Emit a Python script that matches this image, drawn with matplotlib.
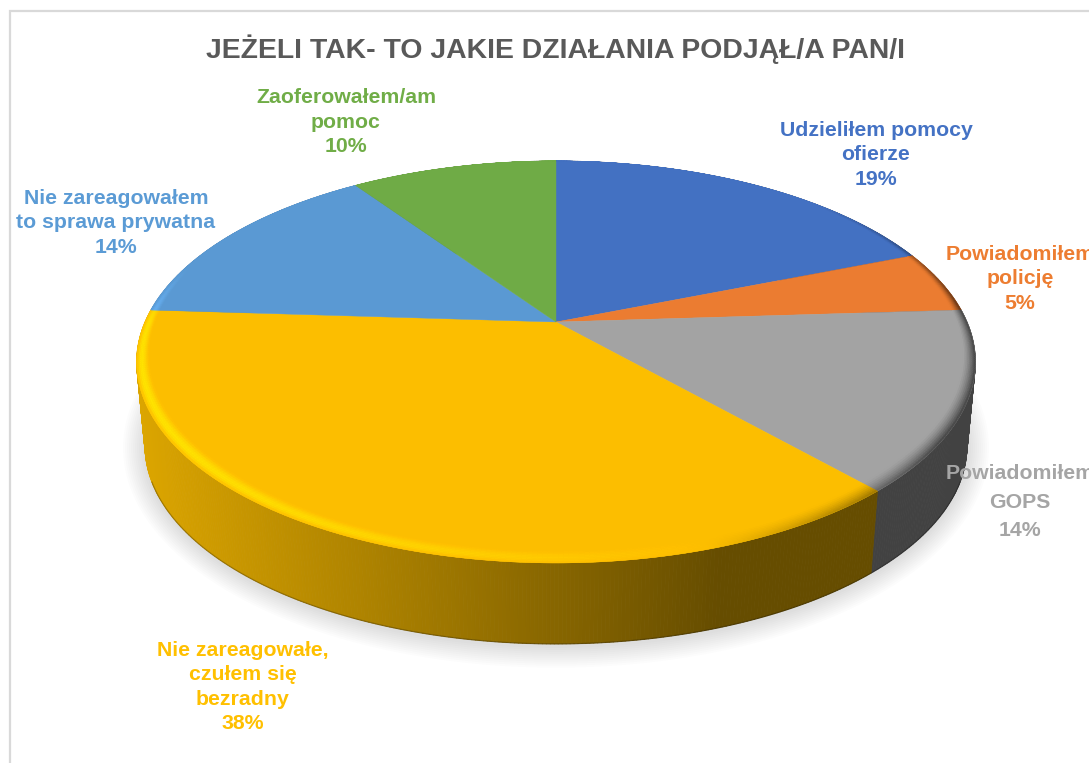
"""
3D pie chart: JEZELI TAK - TO JAKIE DZIALANIA PODJAL/A PAN/I
Drawn by hand since matplotlib has no perspective pie with a bevelled rim.
"""
import numpy as np
import matplotlib
matplotlib.use("Agg")
import matplotlib.pyplot as plt
from matplotlib.collections import PolyCollection
from matplotlib.colors import to_rgb
from matplotlib.patches import Polygon

TITLE = "JEŻELI TAK- TO JAKIE DZIAŁANIA PODJĄŁ/A PAN/I"

CATEGORIES = [
    "Udzieliłem pomocy\nofierze",
    "Powiadomiłem\npolicję",
    "Powiadomiłem\nGOPS",
    "Nie zareagowałe,\nczułem się\nbezradny",
    "Nie zareagowałem\nto sprawa prywatna",
    "Zaoferowałem/am\npomoc",
]
VALUES = [19.0, 5.0, 14.4, 37.6, 14.4, 9.6]
COLORS = ["#4472C4", "#ED7D31", "#A5A5A5", "#FFC000", "#5B9BD5", "#70AD47"]

# label block centres, in image pixels
LABEL_X = [876, 1020, 1020, 243, 116, 346]
LABEL_Y = [155, 279, 502, 687, 223, 122]
LABEL_SPACING = [1.34, 1.34, 1.63, 1.34, 1.34, 1.34]

# perspective of the pie disc, in image pixels
CX, CY = 556, 322
R_X, R_Y, PERSP = 411, 193, 0.199
BEVEL = 0.04
TOP_SHADE = 0.99

plt.rcParams["font.family"] = ["Liberation Sans", "DejaVu Sans"]

fig = plt.figure(figsize=(10.89, 7.63), dpi=100)
ax = fig.add_axes([0, 0, 1, 1])
ax.set_xlim(0, 1089)
ax.set_ylim(763, 0)
ax.axis("off")


def top_xy(u, v):
    d = 1 - PERSP * v
    return CX + R_X * u / d, CY + R_Y * v / d


def bottom_xy(u, v):
    # lower rim: same outline moved down and slightly narrower
    x, y = top_xy(u, v)
    return CX + (x - CX) * 0.98, 447 + (y - 363) * 0.985


def circle(t, rho=1.0):
    # t runs clockwise from 12 o'clock, v grows towards the viewer
    return rho * np.sin(t), -rho * np.cos(t)


# frame of the chart area, only left and top are in the crop
ax.plot([10, 10, 1089], [763, 11, 11], color="#D9D9D9", lw=1.6, solid_joinstyle="miter")

# soft shadow under the disc
ring = np.linspace(0, 2 * np.pi, 240)
for grow in np.arange(22, 0, -2):
    u, v = circle(ring)
    x, y = bottom_xy(u, v)
    xs = CX + (x - CX) * (1 + grow / 411)
    ys = 449 + (y - 447) * (1 + grow / 199)
    ax.add_patch(Polygon(np.column_stack([xs, ys]), closed=True, fc="black",
                         ec="none", alpha=0.012, zorder=1))

edges = np.cumsum([0] + VALUES) / np.sum(VALUES) * 2 * np.pi

# side wall, painted back to front
side_polys, side_cols, side_depth = [], [], []
for i, col in enumerate(COLORS):
    base = np.array(to_rgb(col))
    ts = np.linspace(edges[i], edges[i + 1], max(int(VALUES[i] * 8), 4) + 1)
    for a, b in zip(ts[:-1], ts[1:]):
        ua, va = circle(a)
        ub, vb = circle(b)
        xa, ya = top_xy(ua, va)
        xb, yb = top_xy(ub, vb)
        xc, yc = bottom_xy(ub, vb)
        xd, yd = bottom_xy(ua, va)
        f = np.interp((xa + xb) / 2, [140, 720], [0.86, 0.40])
        side_polys.append([(xa, ya), (xb, yb), (xc, yc), (xd, yd)])
        side_cols.append(base * f)
        side_depth.append(va + vb)
order = np.argsort(side_depth)
ax.add_collection(PolyCollection([side_polys[k] for k in order],
                                 facecolors=[side_cols[k] for k in order],
                                 edgecolors=[side_cols[k] for k in order],
                                 linewidths=0.6, zorder=2))

# thin dark line along the bottom rim
arc = np.linspace(np.pi * 0.62, np.pi * 1.38, 200)
x, y = bottom_xy(*circle(arc))
ax.plot(x, y, color="black", alpha=0.25, lw=0.9, zorder=3)

# flat top of each slice
for i, col in enumerate(COLORS):
    top_col = np.array(to_rgb(col)) * TOP_SHADE
    ts = np.linspace(edges[i], edges[i + 1], 120)
    x, y = top_xy(*circle(ts))
    pts = np.column_stack([np.r_[CX, x], np.r_[CY, y]])
    ax.add_patch(Polygon(pts, closed=True, fc=top_col, ec=top_col, lw=0.3, zorder=4))

# bevel: a few concentric strips, lit from the front left
STEPS = 8
bev_polys, bev_cols = [], []
for i, col in enumerate(COLORS):
    base = np.array(to_rgb(col)) * TOP_SHADE
    ts = np.linspace(edges[i], edges[i + 1], max(int(VALUES[i] * 6), 4) + 1)
    for a, b in zip(ts[:-1], ts[1:]):
        um, vm = circle((a + b) / 2)
        w_a = BEVEL * np.clip(0.6 + 0.6 * circle(a)[1], 0, 1)
        w_b = BEVEL * np.clip(0.6 + 0.6 * circle(b)[1], 0, 1)
        light = -0.95 * um + 0.3 * vm
        for s in range(STEPS):
            s0, s1 = s / STEPS, (s + 1) / STEPS
            sm = (s0 + s1) / 2
            if light > 0:
                fade = np.clip((vm + 0.3) / 0.3, 0, 1)
                f = 1 + 0.2 * fade * light * np.sin(np.pi * sm ** 1.3)
            else:
                fade = np.clip((vm + 0.7) / 0.6, 0, 1)
                f = 1 - 0.6 * fade * min(1, -light * 1.6) * sm ** 1.5
            p1 = top_xy(*circle(a, 1 - w_a * (1 - s0)))
            p2 = top_xy(*circle(b, 1 - w_b * (1 - s0)))
            p3 = top_xy(*circle(b, 1 - w_b * (1 - s1)))
            p4 = top_xy(*circle(a, 1 - w_a * (1 - s1)))
            bev_polys.append([p1, p2, p3, p4])
            bev_cols.append(np.clip(base * f, 0, 1))
ax.add_collection(PolyCollection(bev_polys, facecolors=bev_cols, edgecolors=bev_cols,
                                 linewidths=0.3, zorder=5))

ax.text(555, 49, TITLE, ha="center", va="center", fontsize=20.4,
        fontweight="bold", color="#595959", zorder=6)

for name, val, col, lx, ly, sp in zip(CATEGORIES, VALUES, COLORS, LABEL_X, LABEL_Y, LABEL_SPACING):
    ax.text(lx, ly, f"{name}\n{round(val)}%", ha="center", va="center",
            fontsize=15.3, fontweight="bold", color=col, linespacing=sp,
            clip_on=False, zorder=6)

fig.savefig("out.png", dpi=100)
